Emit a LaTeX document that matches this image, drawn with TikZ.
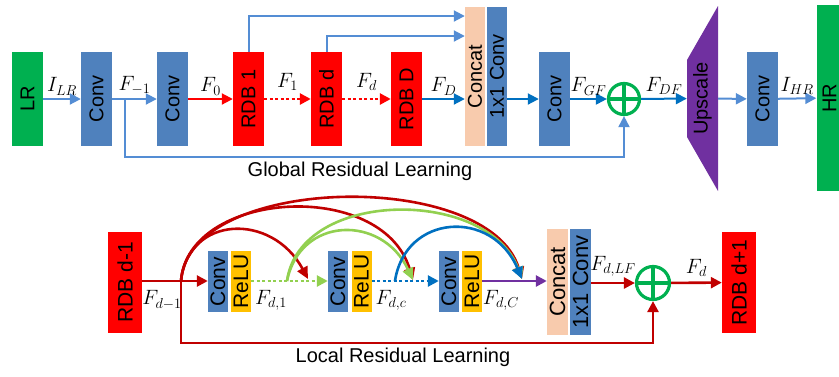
\documentclass[tikz,border=0pt]{standalone}
\usepackage{fontspec}
\setmainfont{Liberation Sans}
\usepackage{tikz}
\usetikzlibrary{arrows.meta, positioning, calc}

\definecolor{convblue}{RGB}{79,129,189}
\definecolor{lineblue}{RGB}{84,141,212}
\definecolor{deepblue}{RGB}{0,112,192}
\definecolor{imggreen}{RGB}{0,176,80}
\definecolor{rdbred}{RGB}{255,0,0}
\definecolor{darkred}{RGB}{192,0,0}
\definecolor{lightgreen}{RGB}{146,208,80}
\definecolor{reluyellow}{RGB}{255,192,0}
\definecolor{concatpeach}{RGB}{248,203,173}
\definecolor{upscalepurple}{RGB}{112,48,160}

\newcommand{\vtext}[1]{\rotatebox{90}{#1}}

\begin{document}
\begin{tikzpicture}[x=1pt, y=-1pt,
    blk/.style={minimum width=31pt, minimum height=94pt, inner sep=0pt,
                font=\fontsize{20}{24}\selectfont},
    convblk/.style={blk, fill=convblue},
    rdbblk/.style={blk, fill=rdbred},
    imgblk/.style={blk, fill=imggreen},
    thinblk/.style={blk, minimum width=20pt, minimum height=139pt},
    sblk/.style={minimum width=20pt, minimum height=61pt, inner sep=0pt,
                 font=\fontsize{21}{24}\selectfont},
    sumnode/.style={circle, draw=imggreen, line width=3.2pt, minimum size=31pt, inner sep=0pt},
    conn/.style={line width=2pt, -{Triangle[length=11pt,width=11pt]}},
    dots/.style={dash pattern=on 3pt off 2.5pt, line width=2.6pt},
    arc/.style={line width=2.6pt, -{Triangle[length=12pt,width=11pt]}},
    lab/.style={font=\fontsize{20}{24}\selectfont, inner sep=3pt, text=black},
  ]
  \useasboundingbox (0,0) rectangle (839,376);

  % ---- top row: the whole network ----
  \node[imgblk]  (lr)    at (27.5,99)  {\vtext{LR}};
  \node[convblk] (conv1) at (96.5,99)  {\vtext{Conv}};
  \node[convblk] (conv2) at (172.5,99) {\vtext{Conv}};
  \node[rdbblk]  (rdb1)  at (248.5,99) {\vtext{RDB 1}};
  \node[rdbblk]  (rdbd)  at (326.5,99) {\vtext{RDB d}};
  \node[rdbblk]  (rdbD)  at (406.5,99) {\vtext{RDB D}};
  \node[thinblk, fill=concatpeach] (concat) at (475,76.5) {\vtext{Concat}};
  \node[thinblk, fill=convblue]    (cconv)  at (497,76.5) {\vtext{1x1 Conv}};
  \node[convblk] (conv3) at (554.5,99) {\vtext{Conv}};
  \node[sumnode] (sum)   at (624,99) {};
  \fill[upscalepurple] (687,60) -- (718,6) -- (718,191) -- (687,137) -- cycle;
  \node[blk, minimum height=185pt] (upscale) at (702.5,98.5) {\vtext{Upscale}};
  \node[convblk] (conv4) at (762.5,99) {\vtext{Conv}};
  \node[imgblk, minimum width=26pt, minimum height=186pt] (hr) at (829.5,98) {\vtext{HR}};
  \draw[imggreen, line width=3.2pt] (sum.north) -- (sum.south) (sum.west) -- (sum.east);

  \draw[conn, lineblue] (lr) -- node[lab, above] {$I_{LR}$} (conv1);
  \draw[conn, lineblue] (conv1) -- node[lab, above] {$F_{-1}$} (conv2);
  \draw[conn, rdbred] (conv2) -- node[lab, above] {$F_0$} (rdb1);
  \draw[conn, rdbred, dots] (rdb1) -- node[lab, above=4pt] {$F_1$} (rdbd);
  \draw[conn, rdbred, dots] (rdbd) -- node[lab, above=4pt] {$F_d$} (rdbD);
  \draw[conn, deepblue] (rdbD) -- node[lab, above] {$F_D$} (rdbD -| concat.west);
  \draw[conn, lineblue] (rdb1.north) |- (concat.west |- 0,16);
  \draw[conn, lineblue] (rdbd.north) |- (concat.west |- 0,36);
  \draw[conn, deepblue] (cconv.east |- conv3) -- (conv3);
  \draw[conn, deepblue] (conv3) -- node[lab, above] {$F_{GF}$} (sum);
  \draw[conn, deepblue] (sum) -- node[lab, above] {$F_{DF}$} (upscale);
  \draw[conn, lineblue] (upscale) -- (conv4);
  \draw[conn, lineblue] (conv4) -- node[lab, above] {$I_{HR}$} (hr);

  % global residual learning
  \coordinate (gsplit) at (125,99);
  \draw[conn, lineblue] (gsplit) |- (sum.south |- 0,157) -- (sum.south);
  \node[lab] (glabel) at (360,171) {Global Residual Learning};

  % ---- bottom row: inside one RDB ----
  \node[blk, fill=rdbred, minimum width=34pt, minimum height=101pt,
        font=\fontsize{21}{24}\selectfont] (rdbprev) at (125,282.5) {\vtext{RDB d-1}};
  \node[sblk, fill=convblue]   (c1) at (218,281.5)   {\vtext{Conv}};
  \node[sblk, fill=reluyellow] (r1) at (241,281.5)   {\vtext{ReLU}};
  \node[sblk, fill=convblue]   (c2) at (338,281.5)   {\vtext{Conv}};
  \node[sblk, fill=reluyellow] (r2) at (361.5,281.5) {\vtext{ReLU}};
  \node[sblk, fill=convblue]   (c3) at (449,281.5)   {\vtext{Conv}};
  \node[sblk, fill=reluyellow] (r3) at (472,281.5)   {\vtext{ReLU}};
  \node[sblk, minimum width=21pt, minimum height=106pt, fill=concatpeach,
        font=\fontsize{22}{24}\selectfont] (lconcat) at (557.5,282) {\vtext{Concat}};
  \node[sblk, minimum width=21pt, minimum height=106pt, fill=convblue,
        font=\fontsize{22}{24}\selectfont] (lcconv) at (580.5,282) {\vtext{1x1 Conv}};
  \node[sumnode, minimum size=33pt] (lsum) at (653,283) {};
  \draw[imggreen, line width=3.2pt] (lsum.north) -- (lsum.south) (lsum.west) -- (lsum.east);
  \node[blk, fill=rdbred, minimum width=34pt, minimum height=101pt,
        font=\fontsize{21}{24}\selectfont] (rdbnext) at (739,282.5) {\vtext{RDB d+1}};

  \coordinate (lsplit) at (181,281);
  \coordinate (gsplit1) at (287,281);
  \coordinate (bsplit) at (395,281);
  \coordinate (tip1) at (308,279);
  \coordinate (tip2) at (413,280);
  \coordinate (tip3) at (522,279);

  \draw[conn, darkred, line width=2.6pt] (rdbprev.east |- lsplit) -- (c1.west |- lsplit);
  \node[lab] (fprev) at (162,300) {$F_{d-1}$};
  \draw[conn, lightgreen, dots] (r1.east |- gsplit1) -- (c2.west |- gsplit1);
  \node[lab] (fd1) at (271,300) {$F_{d,1}$};
  \draw[conn, deepblue, dots] (r2.east |- bsplit) -- (c3.west |- bsplit);
  \node[lab] (fdc) at (391,300) {$F_{d,c}$};
  \draw[conn, upscalepurple, line width=2.6pt] (r3.east |- bsplit) -- (lconcat.west |- bsplit);
  \node[lab] (fdC) at (501,300) {$F_{d,C}$};
  \draw[conn, darkred, line width=2.6pt] (lcconv.east |- lsum) -- node[lab, above=2pt] {$F_{d,LF}$} (lsum);
  \draw[conn, darkred, line width=2.6pt] (lsum) -- node[lab, above=2pt] {$F_d$} (rdbnext);

  % dense connections
  \draw[arc, darkred] (lsplit) .. controls (188,215) and (272,212) .. (tip1);
  \draw[arc, darkred] (lsplit) .. controls (188,190) and (382,178) .. (tip2);
  \draw[arc, darkred] (lsplit) .. controls (188,174) and (488,168) .. (tip3);
  \draw[arc, lightgreen] (gsplit1) .. controls (300,216) and (382,214) .. (tip2);
  \draw[arc, lightgreen] (gsplit1) .. controls (300,188) and (488,188) .. (tip3);
  \draw[arc, deepblue] (bsplit) .. controls (405,214) and (492,208) .. (tip3);

  % local residual learning
  \draw[conn, darkred, line width=2.6pt] (lsplit) |- (lsum.south |- 0,343) -- (lsum.south);
  \node[lab] (llabel) at (403,357) {Local Residual Learning};
\end{tikzpicture}
\end{document}
